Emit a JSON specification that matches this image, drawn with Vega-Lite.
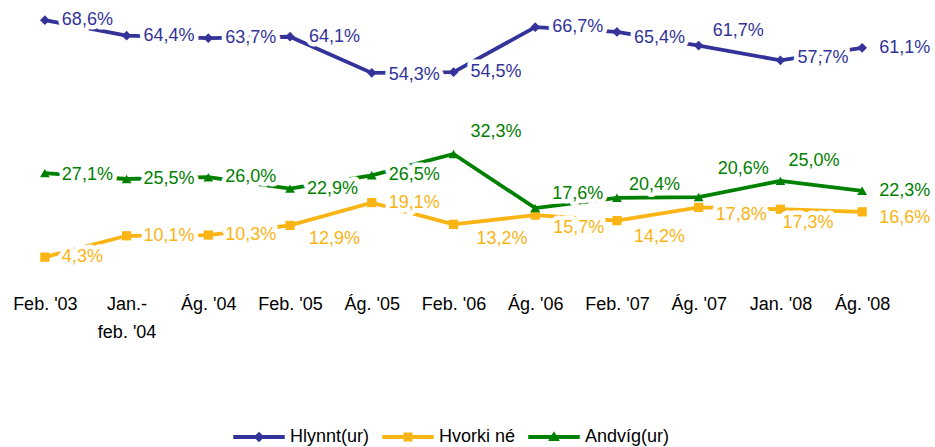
{
  "$schema": "https://vega.github.io/schema/vega-lite/v6.json",
  "autosize": {"type": "none"},
  "padding": {"left": 4, "top": 15, "right": 32, "bottom": 174},
  "width": 899,
  "height": 258,
  "background": "white",
  "config": {
    "view": {"stroke": null},
    "locale": {"number": {"decimal": ",", "thousands": ".", "grouping": [3], "currency": ["", ""]}},
    "font": "Liberation Sans"
  },
  "data": {
    "values": [
      {"p": "Feb. '03", "s": "Hlynnt(ur)", "v": 0.686},
      {"p": "Jan.-feb. '04", "s": "Hlynnt(ur)", "v": 0.644},
      {"p": "Ág. '04", "s": "Hlynnt(ur)", "v": 0.637},
      {"p": "Feb. '05", "s": "Hlynnt(ur)", "v": 0.641},
      {"p": "Ág. '05", "s": "Hlynnt(ur)", "v": 0.543},
      {"p": "Feb. '06", "s": "Hlynnt(ur)", "v": 0.545},
      {"p": "Ág. '06", "s": "Hlynnt(ur)", "v": 0.667},
      {"p": "Feb. '07", "s": "Hlynnt(ur)", "v": 0.654},
      {"p": "Ág. '07", "s": "Hlynnt(ur)", "v": 0.617},
      {"p": "Jan. '08", "s": "Hlynnt(ur)", "v": 0.577},
      {"p": "Ág. '08", "s": "Hlynnt(ur)", "v": 0.611},
      {"p": "Feb. '03", "s": "Hvorki né", "v": 0.043},
      {"p": "Jan.-feb. '04", "s": "Hvorki né", "v": 0.101},
      {"p": "Ág. '04", "s": "Hvorki né", "v": 0.103},
      {"p": "Feb. '05", "s": "Hvorki né", "v": 0.129},
      {"p": "Ág. '05", "s": "Hvorki né", "v": 0.191},
      {"p": "Feb. '06", "s": "Hvorki né", "v": 0.132},
      {"p": "Ág. '06", "s": "Hvorki né", "v": 0.157},
      {"p": "Feb. '07", "s": "Hvorki né", "v": 0.142},
      {"p": "Ág. '07", "s": "Hvorki né", "v": 0.178},
      {"p": "Jan. '08", "s": "Hvorki né", "v": 0.173},
      {"p": "Ág. '08", "s": "Hvorki né", "v": 0.166},
      {"p": "Feb. '03", "s": "Andvíg(ur)", "v": 0.271},
      {"p": "Jan.-feb. '04", "s": "Andvíg(ur)", "v": 0.255},
      {"p": "Ág. '04", "s": "Andvíg(ur)", "v": 0.260},
      {"p": "Feb. '05", "s": "Andvíg(ur)", "v": 0.229},
      {"p": "Ág. '05", "s": "Andvíg(ur)", "v": 0.265},
      {"p": "Feb. '06", "s": "Andvíg(ur)", "v": 0.323},
      {"p": "Ág. '06", "s": "Andvíg(ur)", "v": 0.176},
      {"p": "Feb. '07", "s": "Andvíg(ur)", "v": 0.204},
      {"p": "Ág. '07", "s": "Andvíg(ur)", "v": 0.206},
      {"p": "Jan. '08", "s": "Andvíg(ur)", "v": 0.250},
      {"p": "Ág. '08", "s": "Andvíg(ur)", "v": 0.223}
    ]
  },
  "encoding": {
    "x": {
      "field": "p", "type": "ordinal", "sort": null,
      "scale": {"type": "point", "padding": 0.5},
      "axis": {
        "title": null, "domain": false, "ticks": false, "labelAngle": 0,
        "labelFontSize": 18, "labelFont": "Liberation Sans", "labelColor": "#000000",
        "labelPadding": 22, "labelLineHeight": 28, "labelOverlap": false, "labelLimit": 0,
        "labelExpr": "datum.value == \"Jan.-feb. '04\" ? ['Jan.-', \"feb. '04\"] : datum.label"
      }
    },
    "y": {"field": "v", "type": "quantitative", "scale": {"domain": [0, 0.7]}, "axis": null}
  },
  "layer": [
    {
      "mark": {"type": "line", "strokeWidth": 3.8},
      "encoding": {
        "color": {
          "field": "s", "type": "nominal",
          "scale": {"domain": ["Hlynnt(ur)", "Hvorki né", "Andvíg(ur)"], "range": ["#333399", "#FAB414", "#008000"]},
          "legend": {
            "orient": "none", "legendX": 229, "legendY": 396, "direction": "horizontal",
            "title": null, "padding": 0,
            "labelFontSize": 18, "labelFont": "Liberation Sans", "labelColor": "#000000",
            "symbolSize": 2500, "labelOffset": 5, "columnPadding": 10
          }
        }
      }
    },
    {
      "transform": [{"filter": "false"}],
      "mark": {"type": "point", "filled": true, "opacity": 1},
      "encoding": {
        "color": {"field": "s", "type": "nominal"},
        "shape": {
          "field": "s", "type": "nominal",
          "scale": {
            "domain": ["Hlynnt(ur)", "Hvorki né", "Andvíg(ur)"],
            "range": [
              "M-1,-0.05H1V0.05H-1Z M0,-0.17L0.17,0L0,0.17L-0.17,0Z",
              "M-1,-0.05H1V0.05H-1Z M-0.15,-0.15H0.15V0.15H-0.15Z",
              "M-1,-0.05H1V0.05H-1Z M0,-0.17L0.18,0.13H-0.18Z"
            ]
          }
        }
      }
    },
    {
      "transform": [{"filter": "datum.s == 'Hlynnt(ur)'"}],
      "mark": {"type": "point", "shape": "diamond", "filled": true, "opacity": 1, "size": 95},
      "encoding": {"color": {"field": "s", "type": "nominal"}}
    },
    {
      "transform": [{"filter": "datum.s == 'Hvorki né'"}],
      "mark": {"type": "point", "shape": "square", "filled": true, "opacity": 1, "size": 85},
      "encoding": {"color": {"field": "s", "type": "nominal"}}
    },
    {
      "transform": [{"filter": "datum.s == 'Andvíg(ur)'"}],
      "mark": {"type": "point", "shape": "triangle-up", "filled": true, "opacity": 1, "size": 95},
      "encoding": {"color": {"field": "s", "type": "nominal"}}
    },
    {
      "mark": {
        "type": "text", "align": "left", "baseline": "middle", "fontSize": 18, "font": "Liberation Sans",
        "fill": "white", "stroke": "white", "strokeWidth": 9, "strokeJoin": "round",
        "dx": {"expr": "({\"Hlynnt(ur)Ág. '07\": 14, \"Hlynnt(ur)Feb. '05\": 19, \"Hvorki néFeb. '05\": 19, \"Hvorki néFeb. '06\": 23, \"Hvorki néJan. '08\": 2, \"Hvorki néÁg. '06\": 18, \"Andvíg(ur)Feb. '07\": 12, \"Andvíg(ur)Jan. '08\": 8, \"Andvíg(ur)Ág. '07\": 19})[datum.s + datum.p] || 17"},
        "dy": {"expr": "({\"Hlynnt(ur)Feb. '07\": 6, \"Hlynnt(ur)Ág. '07\": -15, \"Hlynnt(ur)Ág. '05\": 2, \"Hlynnt(ur)Jan. '08\": -2, \"Hvorki néFeb. '05\": 14, \"Hvorki néFeb. '06\": 15, \"Hvorki néÁg. '06\": 13, \"Hvorki néFeb. '07\": 16, \"Hvorki néÁg. '07\": 8, \"Hvorki néJan. '08\": 14, \"Hvorki néÁg. '08\": 6, \"Andvíg(ur)Feb. '03\": 2, \"Andvíg(ur)Feb. '06\": -22, \"Andvíg(ur)Ág. '06\": -14, \"Andvíg(ur)Feb. '07\": -13, \"Andvíg(ur)Ág. '07\": -28, \"Andvíg(ur)Jan. '08\": -20})[datum.s + datum.p] || 0"}
      },
      "encoding": {
        "text": {"field": "v", "type": "quantitative", "format": ".1%"}
      }
    },
    {
      "mark": {
        "type": "text", "align": "left", "baseline": "middle", "fontSize": 18, "font": "Liberation Sans",
        "dx": {"expr": "({\"Hlynnt(ur)Ág. '07\": 14, \"Hlynnt(ur)Feb. '05\": 19, \"Hvorki néFeb. '05\": 19, \"Hvorki néFeb. '06\": 23, \"Hvorki néJan. '08\": 2, \"Hvorki néÁg. '06\": 18, \"Andvíg(ur)Feb. '07\": 12, \"Andvíg(ur)Jan. '08\": 8, \"Andvíg(ur)Ág. '07\": 19})[datum.s + datum.p] || 17"},
        "dy": {"expr": "({\"Hlynnt(ur)Feb. '07\": 6, \"Hlynnt(ur)Ág. '07\": -15, \"Hlynnt(ur)Ág. '05\": 2, \"Hlynnt(ur)Jan. '08\": -2, \"Hvorki néFeb. '05\": 14, \"Hvorki néFeb. '06\": 15, \"Hvorki néÁg. '06\": 13, \"Hvorki néFeb. '07\": 16, \"Hvorki néÁg. '07\": 8, \"Hvorki néJan. '08\": 14, \"Hvorki néÁg. '08\": 6, \"Andvíg(ur)Feb. '03\": 2, \"Andvíg(ur)Feb. '06\": -22, \"Andvíg(ur)Ág. '06\": -14, \"Andvíg(ur)Feb. '07\": -13, \"Andvíg(ur)Ág. '07\": -28, \"Andvíg(ur)Jan. '08\": -20})[datum.s + datum.p] || 0"}
      },
      "encoding": {
        "text": {"field": "v", "type": "quantitative", "format": ".1%"},
        "color": {"field": "s", "type": "nominal"}
      }
    }
  ]
}
